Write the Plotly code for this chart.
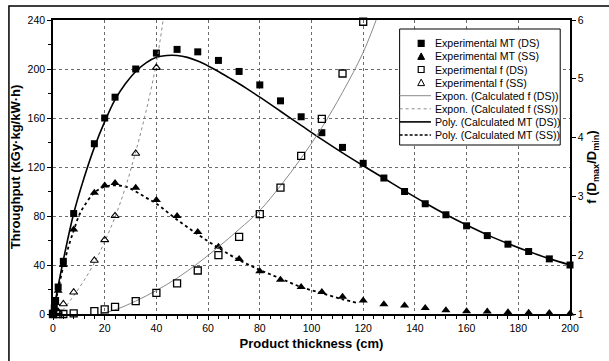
import plotly.graph_objects as go

# ---------------- data ----------------
x_mt = [0, 0.5, 1, 2, 4, 8, 16, 20, 24, 32, 40, 48, 56, 64, 72, 80, 88, 96, 104,
        112, 120, 128, 136, 144, 152, 160, 168, 176, 184, 192, 200]
mt_ds = [0, 5, 11, 22, 43, 82, 139, 160, 177, 200, 213, 216, 214, 207, 198, 187,
         174, 161, 148, 136, 123, 111, 100, 90, 81, 72, 64, 57, 51, 45, 40]
mt_ss = [0, 4, 9, 19, 40, 69, 99, 105, 107, 103, 93, 80, 67, 55, 45, 35, 28, 22,
         18, 14, 11, 8, 7, 5, 3, 2.2, 2, 1.5, 1, 0.8, 0.5]

x_fds = [0, 2, 4, 8, 16, 20, 24, 32, 40, 48, 56, 64, 72, 80, 88, 96, 104, 112, 120]
f_ds = [1.0, 1.0, 1.0, 1.01, 1.05, 1.08, 1.12, 1.22, 1.36, 1.52, 1.74, 2.0, 2.31,
        2.70, 3.15, 3.69, 4.32, 5.09, 5.97]

x_fss = [2, 4, 8, 16, 20, 24, 32, 40]
f_ss = [1.04, 1.17, 1.37, 1.91, 2.26, 2.67, 3.73, 5.19]

# calculated curves (trendlines as drawn in the picture)
poly_ds_x = [0, 2, 4, 8, 12, 16, 20, 24, 28, 32, 36, 40, 44, 48, 52, 56, 60, 64,
             68, 72, 76, 80, 88, 96, 104, 112, 120, 128, 136, 144, 152, 160, 168,
             176, 184, 192, 200]
poly_ds_y = [0, 23, 44, 82, 111, 136, 157, 175, 188, 198, 205, 209.5, 211, 211,
             209.5, 206.5, 202.5, 198, 193, 188, 182.5, 177, 165.5, 154, 142.5,
             131.5, 121, 110.8, 100.5, 90.6, 81.2, 72.6, 64.6, 57.5, 51, 45.2, 40]

poly_ss_x = [0, 2, 4, 6, 8, 10, 12, 16, 20, 24, 28, 32, 36, 40, 48, 56, 64, 72,
             80, 88, 96, 104, 112, 118]
poly_ss_y = [0, 20, 39, 55, 68, 80, 88, 99, 104, 105, 104, 100, 95, 90, 77, 65,
             54, 44, 36, 29, 22, 17, 12, 9]

expo_ds_x = [18, 24, 32, 40, 48, 56, 64, 72, 80, 88, 96, 104, 112, 120, 125]
expo_ds_f = [1.0, 1.07, 1.22, 1.40, 1.61, 1.86, 2.14, 2.44, 2.76, 3.18, 3.65,
             4.17, 4.77, 5.45, 6.0]

expo_ss_x = [2, 4, 8, 12, 16, 20, 24, 28, 32, 36, 40, 42.6]
expo_ss_f = [1.0, 1.08, 1.31, 1.57, 1.87, 2.23, 2.65, 3.15, 3.76, 4.45, 5.27, 6.0]

legend_labels = ["Experimental MT (DS)", "Experimental MT (SS)",
                 "Experimental f (DS)", "Experimental f (SS)",
                 "Expon. (Calculated f (DS))", "Expon. (Calculated f (SS))",
                 "Poly. (Calculated MT (DS))", "Poly. (Calculated MT (SS))"]

x_title = "Product thickness (cm)"
y_title = "Throughput (kGy·kg/kW·h)"
y2_title = "f (D<sub>max</sub>/D<sub>min</sub>)"

# ---------------- figure ----------------
W, H = 609, 361
ML, MR, MT, MB = 53, 28, 20, 47
PW, PH = W - ML - MR, H - MT - MB
FONT = "Liberation Sans, Arial, sans-serif"

fig = go.Figure()

# curves
fig.add_trace(go.Scatter(x=expo_ds_x, y=expo_ds_f, yaxis="y2", mode="lines",
                         line=dict(color="#8a8a8a", width=1, shape="spline"),
                         name=legend_labels[4]))
fig.add_trace(go.Scatter(x=expo_ss_x, y=expo_ss_f, yaxis="y2", mode="lines",
                         line=dict(color="#8a8a8a", width=1, dash="dot", shape="spline"),
                         name=legend_labels[5]))
fig.add_trace(go.Scatter(x=poly_ds_x, y=poly_ds_y, mode="lines",
                         line=dict(color="black", width=1.6, shape="spline"),
                         name=legend_labels[6]))
fig.add_trace(go.Scatter(x=poly_ss_x, y=poly_ss_y, mode="lines",
                         line=dict(color="black", width=1.8, dash="dot", shape="spline"),
                         name=legend_labels[7]))

# experimental points
fig.add_trace(go.Scatter(x=x_fds, y=f_ds, yaxis="y2", mode="markers",
                         marker=dict(symbol="square-open", size=7, color="black",
                                     line=dict(width=1.3)),
                         cliponaxis=False, name=legend_labels[2]))
fig.add_trace(go.Scatter(x=x_fss, y=f_ss, yaxis="y2", mode="markers",
                         marker=dict(symbol="triangle-up-open", size=7, color="black",
                                     line=dict(width=1.1)),
                         cliponaxis=False, name=legend_labels[3]))
fig.add_trace(go.Scatter(x=x_mt, y=mt_ss, mode="markers",
                         marker=dict(symbol="triangle-up", size=8, color="black"),
                         cliponaxis=False, name=legend_labels[1]))
fig.add_trace(go.Scatter(x=x_mt, y=mt_ds, mode="markers",
                         marker=dict(symbol="square", size=7, color="black"),
                         cliponaxis=False, name=legend_labels[0]))

grid = dict(showgrid=True, gridcolor="#6a6a6a", gridwidth=1, griddash="dot")
TITLE_FONT = dict(size=13, family=FONT, weight="bold", color="black")

fig.update_layout(
    width=W, height=H, margin=dict(l=ML, r=MR, t=MT, b=MB),
    paper_bgcolor="white", plot_bgcolor="white", showlegend=False,
    font=dict(family=FONT, size=10, color="black"),
    xaxis=dict(range=[0, 200], dtick=20, tick0=0, **grid, zeroline=False,
               showline=True, linecolor="black", linewidth=1.5, mirror=True,
               ticks="outside", ticklen=4, tickcolor="black",
               minor=dict(dtick=4, ticks="outside", ticklen=3, tickcolor="black", showgrid=False),
               tickfont=dict(size=10.5),
               title=dict(text=x_title, font=TITLE_FONT, standoff=6)),
    yaxis=dict(range=[0, 240], dtick=40, tick0=0, **grid, zeroline=False,
               showline=True, linecolor="black", linewidth=1.5,
               ticks="outside", ticklen=4, tickcolor="black",
               minor=dict(dtick=20, ticks="outside", ticklen=3, tickcolor="black", showgrid=False),
               tickfont=dict(size=10.5),
               title=dict(text=y_title, font=TITLE_FONT, standoff=4)),
    yaxis2=dict(range=[1, 6], dtick=1, tick0=1, overlaying="y", side="right",
                showgrid=False, zeroline=False,
                showline=True, linecolor="black", linewidth=1.5,
                ticks="outside", ticklen=4, tickcolor="black",
                tickfont=dict(size=10.5),
                title=dict(text=y2_title, font=TITLE_FONT, standoff=4)),
)

# ---------------- outer frame ----------------
def px2x(px):
    return (px - ML) / PW

def px2y(py):
    return (H - MB - py) / PH

fig.add_shape(type="rect", xref="paper", yref="paper",
              x0=px2x(8), y0=px2y(370), x1=px2x(640), y1=px2y(6),
              line=dict(color="black", width=1.5), layer="above")

# ---------------- legend (drawn) ----------------
LX0, LX1, LY0, LY1 = 407, 571, 29, 145
fig.add_shape(type="rect", xref="paper", yref="paper",
              x0=px2x(LX0), x1=px2x(LX1), y0=px2y(LY1), y1=px2y(LY0),
              fillcolor="white", line=dict(color="black", width=1), layer="above")

row0, drow = 43.3, 13.1
sym_x = 429
for i, lab in enumerate(legend_labels):
    cy = row0 + drow * i
    fig.add_annotation(xref="paper", yref="paper", x=px2x(441), y=px2y(cy),
                       text=lab, showarrow=False, xanchor="left", yanchor="middle",
                       font=dict(family=FONT, size=10.6, color="black"))
    s = 3
    if i in (0, 2):
        fig.add_shape(type="rect", xref="paper", yref="paper",
                      x0=px2x(sym_x - s), x1=px2x(sym_x + s),
                      y0=px2y(cy + s), y1=px2y(cy - s),
                      fillcolor="black" if i == 0 else "white",
                      line=dict(color="black", width=1.2), layer="above")
    elif i in (1, 3):
        path = "M {:.5f},{:.5f} L {:.5f},{:.5f} L {:.5f},{:.5f} Z".format(
            px2x(sym_x - 3.5), px2y(cy + 3), px2x(sym_x + 3.5), px2y(cy + 3),
            px2x(sym_x), px2y(cy - 3.5))
        fig.add_shape(type="path", xref="paper", yref="paper", path=path,
                      fillcolor="black" if i == 1 else "white",
                      line=dict(color="black", width=1), layer="above")
    else:
        styles = {4: ("#8a8a8a", 1, "solid"), 5: ("#8a8a8a", 1, "dot"),
                  6: ("black", 1.6, "solid"), 7: ("black", 1.5, "3px,2px")}
        c, w, d = styles[i]
        fig.add_shape(type="line", xref="paper", yref="paper",
                      x0=px2x(LX0), x1=px2x(439), y0=px2y(cy), y1=px2y(cy),
                      line=dict(color=c, width=w, dash=d), layer="above")

fig.write_html("out.html")
